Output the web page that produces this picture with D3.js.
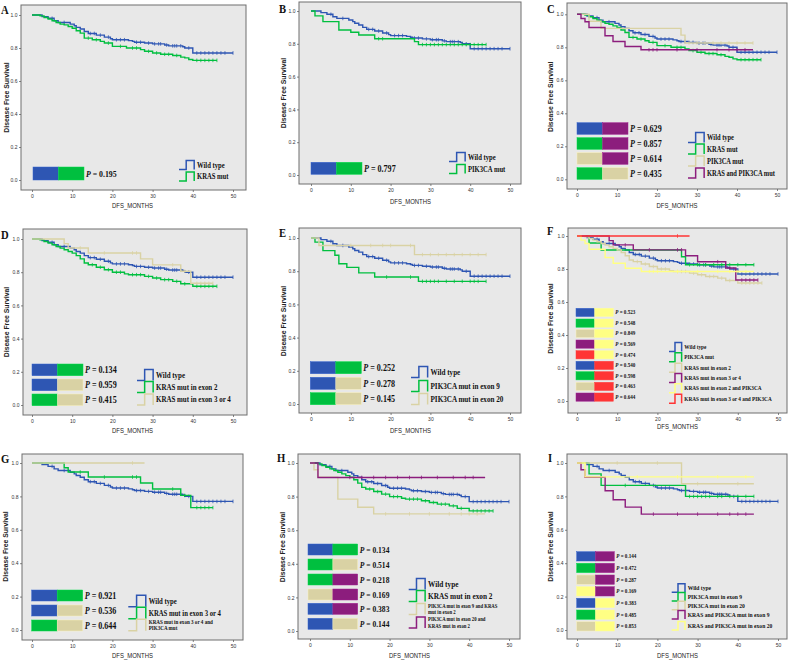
<!DOCTYPE html>
<html><head><meta charset="utf-8">
<script src="https://cdn.jsdelivr.net/npm/d3@7"></script>
<style>body{margin:0;background:#fff}svg{display:block}</style>
</head><body><svg id="c" width="790" height="661"></svg>
<script>
// ---------- DATA ----------
const xTicks = [0, 10, 20, 30, 40, 50];
const yTicks = [0, 0.2, 0.4, 0.6, 0.8, 1.0];

// Kaplan-Meier step curves: [time, survival] steps; end = last follow-up time; censor = censor times
const wildTypeSteps = [[0,1],[2.5,0.99],[4,0.98],[5.5,0.965],[6.5,0.955],[9.5,0.945],[10.5,0.935],[11,0.925],[12,0.915],[13,0.9],[14,0.888],[16,0.878],[18,0.866],[19.5,0.856],[20,0.85],[24,0.845],[25,0.84],[25.5,0.835],[28,0.83],[30,0.825],[33,0.818],[34,0.813],[37.5,0.808],[38,0.8],[40,0.77]];
const wildTypeEnd = 50;
const wildTypeCensor = [5,8,14.5,15.5,17,19,21,22,23,26,27,29,30.5,31.5,32,33.5,35,35.5,36,37,39,41,42,43,44,45,46,47,48,50];

const krasMutSteps = [[0,1],[2,0.995],[3,0.985],[4,0.975],[5,0.965],[6,0.955],[7,0.945],[8,0.94],[9,0.93],[10,0.92],[11,0.905],[12,0.89],[13,0.86],[15,0.85],[17,0.84],[18,0.83],[20,0.81],[23.5,0.8],[27,0.79],[28,0.78],[30,0.77],[32,0.762],[35,0.755],[37,0.745],[38,0.74],[39,0.73],[40,0.725]];
const krasMutEnd = 46;
const krasMutCensor = [14,16,19,22,25,26,29,31,33,34,36,41,42,43,44,45,46];

const kras2Steps = [[0,1],[2,0.995],[3,0.985],[4,0.975],[5,0.965],[6,0.955],[7,0.945],[8,0.935],[9,0.925],[10,0.915],[11,0.9],[12,0.88],[13,0.855],[14,0.845],[16,0.83],[18,0.815],[20,0.8],[23,0.79],[24,0.785],[28,0.775],[30,0.765],[32,0.755],[35,0.745],[37,0.73],[40,0.715]];
const kras2End = 46;
const kras2Censor = [15,17,19,21,22,25,26,27,29,31,33,34,36,38,41,42,43,44,45,46];

const pikMutSteps = [[0,1],[1,0.97],[3,0.935],[7,0.884],[10,0.87],[12,0.854],[16,0.831],[26,0.813],[27,0.795]];
const pikMutEnd = 44;
const pikMutCensor = [17,18,28,29,30,31,32,33,34,35,36,37,38,39,40,41,42,43,44];

const pikOnlySteps = [[0,1],[3,0.958],[6,0.915],[26,0.874],[27,0.826]];
const pikOnlyEnd = 44;
const pikOnlyCensor = [28,30,32,34,36,38,40,42,44];

const kras2PikSteps = [[0,1],[1,0.975],[2,0.955],[3,0.92],[7,0.87],[9,0.835],[12,0.805],[16,0.785]];
const kras2PikEnd = 44;
const kras2PikCensor = [18,19,20,25,30,35,38,40,42];

const kras34Steps = [[0,1],[8,0.972],[9,0.946],[14,0.916],[27,0.88],[30,0.844],[37,0.806],[39.5,0.733]];
const kras34End = 45;
const kras34Censor = [12,18,25,26,35,38,41,42,43,44,45];

const pik9Steps = [[0,1],[1,0.975],[3,0.924],[6,0.896],[7,0.845],[9,0.823],[12,0.79],[16,0.765],[27,0.739]];
const pik9End = 44;
const pik9Censor = [19,25,28,29,30,31,32,34,36,38,40,41,42,44];

const pik20Steps = [[0,1],[2,0.955],[26,0.9]];
const pik20End = 44;
const pik20Censor = [10,15,18,20,25,28,30,32,34,36,38,40,42,44];

const kras34PikSteps = [[0,1]];
const kras34PikEnd = 28;
const kras34PikCensor = [25];

const pik9Kras2Steps = [[0,1],[1,0.96],[2,0.915],[7,0.785],[12,0.737],[16,0.697]];
const pik9Kras2End = 44;
const pik9Kras2Censor = [19,25,30,35,38,40,42];

const pik20Kras2Steps = [[0,1],[2,0.914]];
const pik20Kras2End = 44;
const pik20Kras2Censor = [10,13,16,19,22,25,28,32,36,39,41];

const pik9OnlySteps = [[0,1],[3,0.935],[6,0.866],[27,0.8]];
const pik9OnlyEnd = 44;
const pik9OnlyCensor = [12,28,29,30,31,32,33,35,36,38,40,42,44];

const pik20OnlySteps = [[0,1],[26,0.876]];
const pik20OnlyEnd = 44;
const pik20OnlyCensor = [10,20,30,40];

const krasPik9Steps = [[0,1],[1,0.96],[2,0.915],[7,0.834],[9,0.78],[12,0.736],[16,0.694]];
const krasPik9End = 44;
const krasPik9Censor = [19,25,30,35,38,40,42];

const krasPik20Steps = [[0,1],[2,0.917]];
const krasPik20End = 44;
const krasPik20Censor = [15,25,35,42];

// P-values and comparison pairs
const pA = [0.195]; const pairsA = [["blue","green"]];
const pB = [0.797]; const pairsB = [["blue","green"]];
const pC = [0.629, 0.857, 0.614, 0.435]; const pairsC = [["blue","purple"],["green","purple"],["tan","purple"],["green","tan"]];
const pD = [0.134, 0.959, 0.415]; const pairsD = [["blue","green"],["blue","tan"],["green","tan"]];
const pE = [0.252, 0.278, 0.145]; const pairsE = [["blue","green"],["blue","tan"],["green","tan"]];
const pF = [0.523, 0.548, 0.849, 0.569, 0.474, 0.540, 0.598, 0.463, 0.644];
const pairsF = [["blue","yellow"],["green","yellow"],["tan","yellow"],["purple","yellow"],["red","yellow"],["blue","red"],["green","red"],["tan","red"],["purple","red"]];
const pG = [0.921, 0.536, 0.644]; const pairsG = [["blue","green"],["blue","tan"],["green","tan"]];
const pH = [0.134, 0.514, 0.218, 0.169, 0.383, 0.144];
const pairsH = [["blue","green"],["green","tan"],["green","purple"],["tan","purple"],["blue","purple"],["blue","tan"]];
const pI = [0.144, 0.472, 0.287, 0.169, 0.383, 0.485, 0.853];
const pairsI = [["blue","purple"],["green","purple"],["tan","purple"],["yellow","purple"],["blue","yellow"],["green","yellow"],["tan","yellow"]];

// Legend labels
const labelsA = ["Wild type", "KRAS mut"];
const labelsB = ["Wild type", "PIK3CA mut"];
const labelsC = ["Wild type", "KRAS mut", "PIK3CA mut", "KRAS and PIK3CA mut"];
const labelsD = ["Wild type", "KRAS mut in exon 2", "KRAS mut in exon 3 or 4"];
const labelsE = ["Wild type", "PIK3CA mut in exon 9", "PIK3CA mut in exon 20"];
const labelsF = ["Wild type", "PIK3CA mut", "KRAS mut in exon 2", "KRAS mut in exon 3 or 4", "KRAS mut in exon 2 and PIK3CA", "KRAS mut in exon 3 or 4 and PIK3CA"];
const labelsG = ["Wild type", "KRAS mut in exon 3 or 4", ["KRAS mut in exon 3 or 4 and", "PIK3CA mut"]];
const labelsH = ["Wild type", "KRAS mut in exon 2", ["PIK3CA mut in exon 9 and KRAS", "mut in exon 2"], ["PIK3CA mut in exon 20 and", "KRAS mut in exon 2"]];
const labelsI = ["Wild type", "PIK3CA mut in exon 9", "PIK3CA mut in exon 20", "KRAS and PIK3CA mut in exon 9", "KRAS and PIK3CA mut in exon 20"];

// ---------- STYLE ----------
const COL = {blue:"#2E56B3", green:"#00BF3F", tan:"#D9D2A4", purple:"#8C1D7D", yellow:"#FFFF84", red:"#FF3535"};
const SX = 0.85;
const SERIF = "'Liberation Serif','Times New Roman',serif";
const SANS = "'Liberation Sans',Arial,sans-serif";

const C = (steps, end, censor) => ({steps, end, censor});
const WT = C(wildTypeSteps, wildTypeEnd, wildTypeCensor);
const KM = C(krasMutSteps, krasMutEnd, krasMutCensor);
const K2 = C(kras2Steps, kras2End, kras2Censor);
const PM = C(pikMutSteps, pikMutEnd, pikMutCensor);
const PO = C(pikOnlySteps, pikOnlyEnd, pikOnlyCensor);
const K2P = C(kras2PikSteps, kras2PikEnd, kras2PikCensor);
const K34 = C(kras34Steps, kras34End, kras34Censor);
const P9 = C(pik9Steps, pik9End, pik9Censor);
const P20 = C(pik20Steps, pik20End, pik20Censor);
const K34P = C(kras34PikSteps, kras34PikEnd, kras34PikCensor);
const P9K2 = C(pik9Kras2Steps, pik9Kras2End, pik9Kras2Censor);
const P20K2 = C(pik20Kras2Steps, pik20Kras2End, pik20Kras2Censor);
const P9O = C(pik9OnlySteps, pik9OnlyEnd, pik9OnlyCensor);
const P20O = C(pik20OnlySteps, pik20OnlyEnd, pik20OnlyCensor);
const KP9 = C(krasPik9Steps, krasPik9End, krasPik9Censor);
const KP20 = C(krasPik20Steps, krasPik20End, krasPik20Censor);

const panels = [
 {L:"A", frame:[21,5,246,190], xr:[32,233], yr:[180,15], letter:[1,14], ylab:8.5, xlab:208,
  curves:[[WT,"blue"],[KM,"green"]],
  pl:{x:33,w:51,h:13,tops:[167],fs:9.2,vals:pA,pairs:pairsA},
  cl:{x:179,iw:16,ih:9,cys:[165,176.5],fs:[7.8,7.8],labels:labelsA,colors:["blue","green"]}},
 {L:"B", frame:[299,2,521,184], xr:[311,510], yr:[175,11], letter:[279,13], ylab:286, xlab:203.5,
  curves:[[WT,"blue"],[PM,"green"]],
  pl:{x:311,w:51,h:12,tops:[162.3],fs:9.5,vals:pB,pairs:pairsB},
  cl:{x:449,iw:17,ih:9,cys:[157,169],fs:[7.8,7.8],labels:labelsB,colors:["blue","green"]}},
 {L:"C", frame:[567,3,787,189], xr:[577,777], yr:[179.3,14.3], letter:[547,13], ylab:552.5, xlab:207.5,
  curves:[[WT,"blue"],[KM,"green"],[PO,"tan"],[K2P,"purple"]],
  pl:{x:577,w:51,h:11.6,tops:[122.7,137.7,152.7,167.7],fs:9.5,vals:pC,pairs:pairsC},
  cl:{x:688,iw:17,ih:10,cys:[137.5,149,161,173],fs:[7.6,7.6,7.6,7.6],labels:labelsC,colors:["blue","green","tan","purple"]}},
 {L:"D", frame:[23,229,247,415], xr:[32,233], yr:[405,239], letter:[1,239], ylab:8.7, xlab:433,
  curves:[[WT,"blue"],[K2,"green"],[K34,"tan"]],
  pl:{x:32,w:51,h:11.7,tops:[364,379,394],fs:9.5,vals:pD,pairs:pairsD},
  cl:{x:137,iw:17,ih:11,cys:[375,387,399.5],fs:[8.2,8.2,8.2],labels:labelsD,colors:["blue","green","tan"]}},
 {L:"E", frame:[299,228,521,413], xr:[311,510], yr:[404,238], letter:[279,237], ylab:286, xlab:433,
  curves:[[WT,"blue"],[P9,"green"],[P20,"tan"]],
  pl:{x:310.3,w:51,h:12,tops:[361.7,377.3,392.7],fs:9.5,vals:pE,pairs:pairsE},
  cl:{x:411,iw:17.5,ih:11,cys:[372,386,399],fs:[8.4,8.4,8.4],labels:labelsE,colors:["blue","green","tan"]}},
 {L:"F", frame:[568,228,787,413], xr:[577,778], yr:[401,236], letter:[547,235], ylab:553, xlab:428.5,
  curves:[[WT,"blue"],[PO,"green"],[K2,"tan"],[K34,"purple"],[K2P,"yellow"],[K34P,"red"]],
  pl:{x:576,w:37.3,h:8.2,tops:[308.3,319,329.3,340,350.7,361.3,371.7,382.3,393],fs:6,vals:pF,pairs:pairsF},
  cl:{x:669,iw:13.3,ih:9,cys:[347,357.3,367.7,378,388.3,398.7],fs:[6.2,6.2,6.2,6.2,6.2,6.2],labels:labelsF,colors:["blue","green","tan","purple","yellow","red"]}},
 {L:"G", frame:[22,454,243,640], xr:[32,233], yr:[630,463], letter:[1,463], ylab:8.3, xlab:658,
  curves:[[WT,"blue"],[K34,"green"],[K34P,"tan"]],
  pl:{x:31.7,w:51,h:11,tops:[590,605,620],fs:9.5,vals:pG,pairs:pairsG},
  cl:{x:128.3,iw:18.4,ih:11.5,cys:[601,613,625],fs:[7.9,7.9,6],labels:labelsG,colors:["blue","green","tan"]}},
 {L:"H", frame:[298,454,520,639], xr:[310,509], yr:[631,463], letter:[277,462], ylab:284.7, xlab:657.5,
  curves:[[WT,"blue"],[K2,"green"],[P9K2,"tan"],[P20K2,"purple"]],
  pl:{x:308,w:49.7,h:11,tops:[544,559,574,589,603.3,618.3],fs:8.9,vals:pH,pairs:pairsH},
  cl:{x:408.7,iw:17.3,ih:11,cys:[584,596,609,622.5],fs:[8.6,8.6,5.6,5.6],labels:labelsH,colors:["blue","green","tan","purple"]}},
 {L:"I", frame:[567,454,787,639], xr:[577,778], yr:[630,463], letter:[548,462], ylab:553.3, xlab:658,
  curves:[[WT,"blue"],[P9O,"green"],[P20O,"tan"],[KP9,"purple"],[KP20,"yellow"]],
  pl:{x:576.7,w:37.6,h:9.3,tops:[551.7,563.3,575,586.7,598.3,610,621.7],fs:6,vals:pI,pairs:pairsI},
  cl:{x:671.7,iw:14,ih:8.5,cys:[588,596.7,605.5,614.7,625.8],fs:[6.6,6.6,6.6,6.6,6.6],labels:labelsI,colors:["blue","green","tan","purple","yellow"]}}
];

// ---------- DRAW ----------
const svg = d3.select("#c");
svg.append("rect").attr("width",790).attr("height",661).attr("fill","#fff");

function txt(g, x, y, fs, family, weight, anchor) {
  return g.append("text")
    .attr("transform", `translate(${x},${y}) scale(${SX},1)`)
    .attr("font-size", fs).attr("font-family", family)
    .attr("font-weight", weight).attr("text-anchor", anchor || "start")
    .attr("fill", "#111");
}

function survAt(steps, t) {
  let s = 1;
  for (const [ti, si] of steps) { if (ti <= t) s = si; }
  return s;
}

panels.forEach(p => {
  const g = svg.append("g");
  const [fx0, fy0, fx1, fy1] = p.frame;
  const x = d3.scaleLinear().domain([0, 50]).range(p.xr);
  const y = d3.scaleLinear().domain([0, 1]).range(p.yr);

  g.append("rect").attr("x", fx0).attr("y", fy0).attr("width", fx1 - fx0).attr("height", fy1 - fy0)
    .attr("fill", "#E8E8E8").attr("stroke", "#6e6e6e").attr("stroke-width", 1);

  // axes
  const ya = g.append("g").attr("transform", `translate(${fx0},0)`)
    .call(d3.axisLeft(y).tickValues(yTicks).tickFormat(d3.format(".1f")).tickSize(2).tickPadding(1.5));
  const xa = g.append("g").attr("transform", `translate(0,${fy1})`)
    .call(d3.axisBottom(x).tickValues(xTicks).tickFormat(d3.format("d")).tickSize(2).tickPadding(2.5));
  [ya, xa].forEach(a => {
    a.select(".domain").remove();
    a.selectAll("line").attr("stroke", "#555").attr("stroke-width", 0.7);
    a.selectAll("text").attr("font-size", 5).attr("font-family", SANS).attr("fill", "#333");
  });

  // axis titles
  g.append("text").attr("transform", `translate(${p.ylab},${(p.yr[0] + p.yr[1]) / 2}) rotate(-90)`)
    .attr("text-anchor", "middle").attr("font-size", 6.8).attr("font-weight", "bold")
    .attr("font-family", SANS).attr("fill", "#222").text("Disease Free Survival");
  txt(g, (p.xr[0] + p.xr[1]) / 2, p.xlab, 7, SANS, "normal", "middle").attr("fill", "#222").text("DFS_MONTHS");

  // letter
  txt(g, p.letter[0], p.letter[1], 12.5, SERIF, "bold").text(p.L);

  // curves
  const line = d3.line().x(d => x(d[0])).y(d => y(d[1])).curve(d3.curveStepAfter);
  p.curves.forEach(([cv, col]) => {
    const pts = cv.steps.concat([[cv.end, cv.steps[cv.steps.length - 1][1]]]);
    g.append("path").attr("d", line(pts)).attr("fill", "none")
      .attr("stroke", COL[col]).attr("stroke-width", 1.4);
    g.selectAll(null).data(cv.censor).enter().append("line")
      .attr("x1", d => x(d)).attr("x2", d => x(d))
      .attr("y1", d => y(survAt(cv.steps, d)) - 1.8).attr("y2", d => y(survAt(cv.steps, d)) + 1.8)
      .attr("stroke", COL[col]).attr("stroke-width", 0.8);
  });

  // P-value legend
  const pl = p.pl;
  pl.vals.forEach((v, i) => {
    const top = pl.tops[i];
    const [c1, c2] = pl.pairs[i];
    g.append("rect").attr("x", pl.x).attr("y", top).attr("width", pl.w / 2).attr("height", pl.h)
      .attr("fill", COL[c1]).attr("stroke", d3.color(COL[c1]).brighter(0.4)).attr("stroke-width", 0.5);
    g.append("rect").attr("x", pl.x + pl.w / 2).attr("y", top).attr("width", pl.w / 2).attr("height", pl.h)
      .attr("fill", COL[c2]).attr("stroke", d3.color(COL[c2]).brighter(0.4)).attr("stroke-width", 0.5);
    const t = txt(g, pl.x + pl.w + 2, top + pl.h / 2 + pl.fs * 0.34, pl.fs, SERIF, "bold");
    t.append("tspan").attr("font-style", "italic").text("P");
    t.append("tspan").text(" = " + d3.format(".3f")(v));
  });

  // curve legend
  const cl = p.cl;
  cl.labels.forEach((lab, i) => {
    const cy = cl.cys[i], iw = cl.iw, ih = cl.ih, lx = cl.x;
    g.append("path")
      .attr("d", `M${lx},${cy + ih / 2}H${lx + iw * 0.45}V${cy - ih / 2}H${lx + iw * 0.95}V${cy + ih / 2}`)
      .attr("fill", "none").attr("stroke", COL[cl.colors[i]]).attr("stroke-width", 1.5);
    const lines = Array.isArray(lab) ? lab : [lab];
    const fs = cl.fs[i];
    const lh = fs * 1.15;
    lines.forEach((ln, j) => {
      const yy = cy + fs * 0.34 + (j - (lines.length - 1) / 2) * lh;
      txt(g, lx + iw + 2, yy, fs, SERIF, "bold").text(ln);
    });
  });
});
</script></body></html>
